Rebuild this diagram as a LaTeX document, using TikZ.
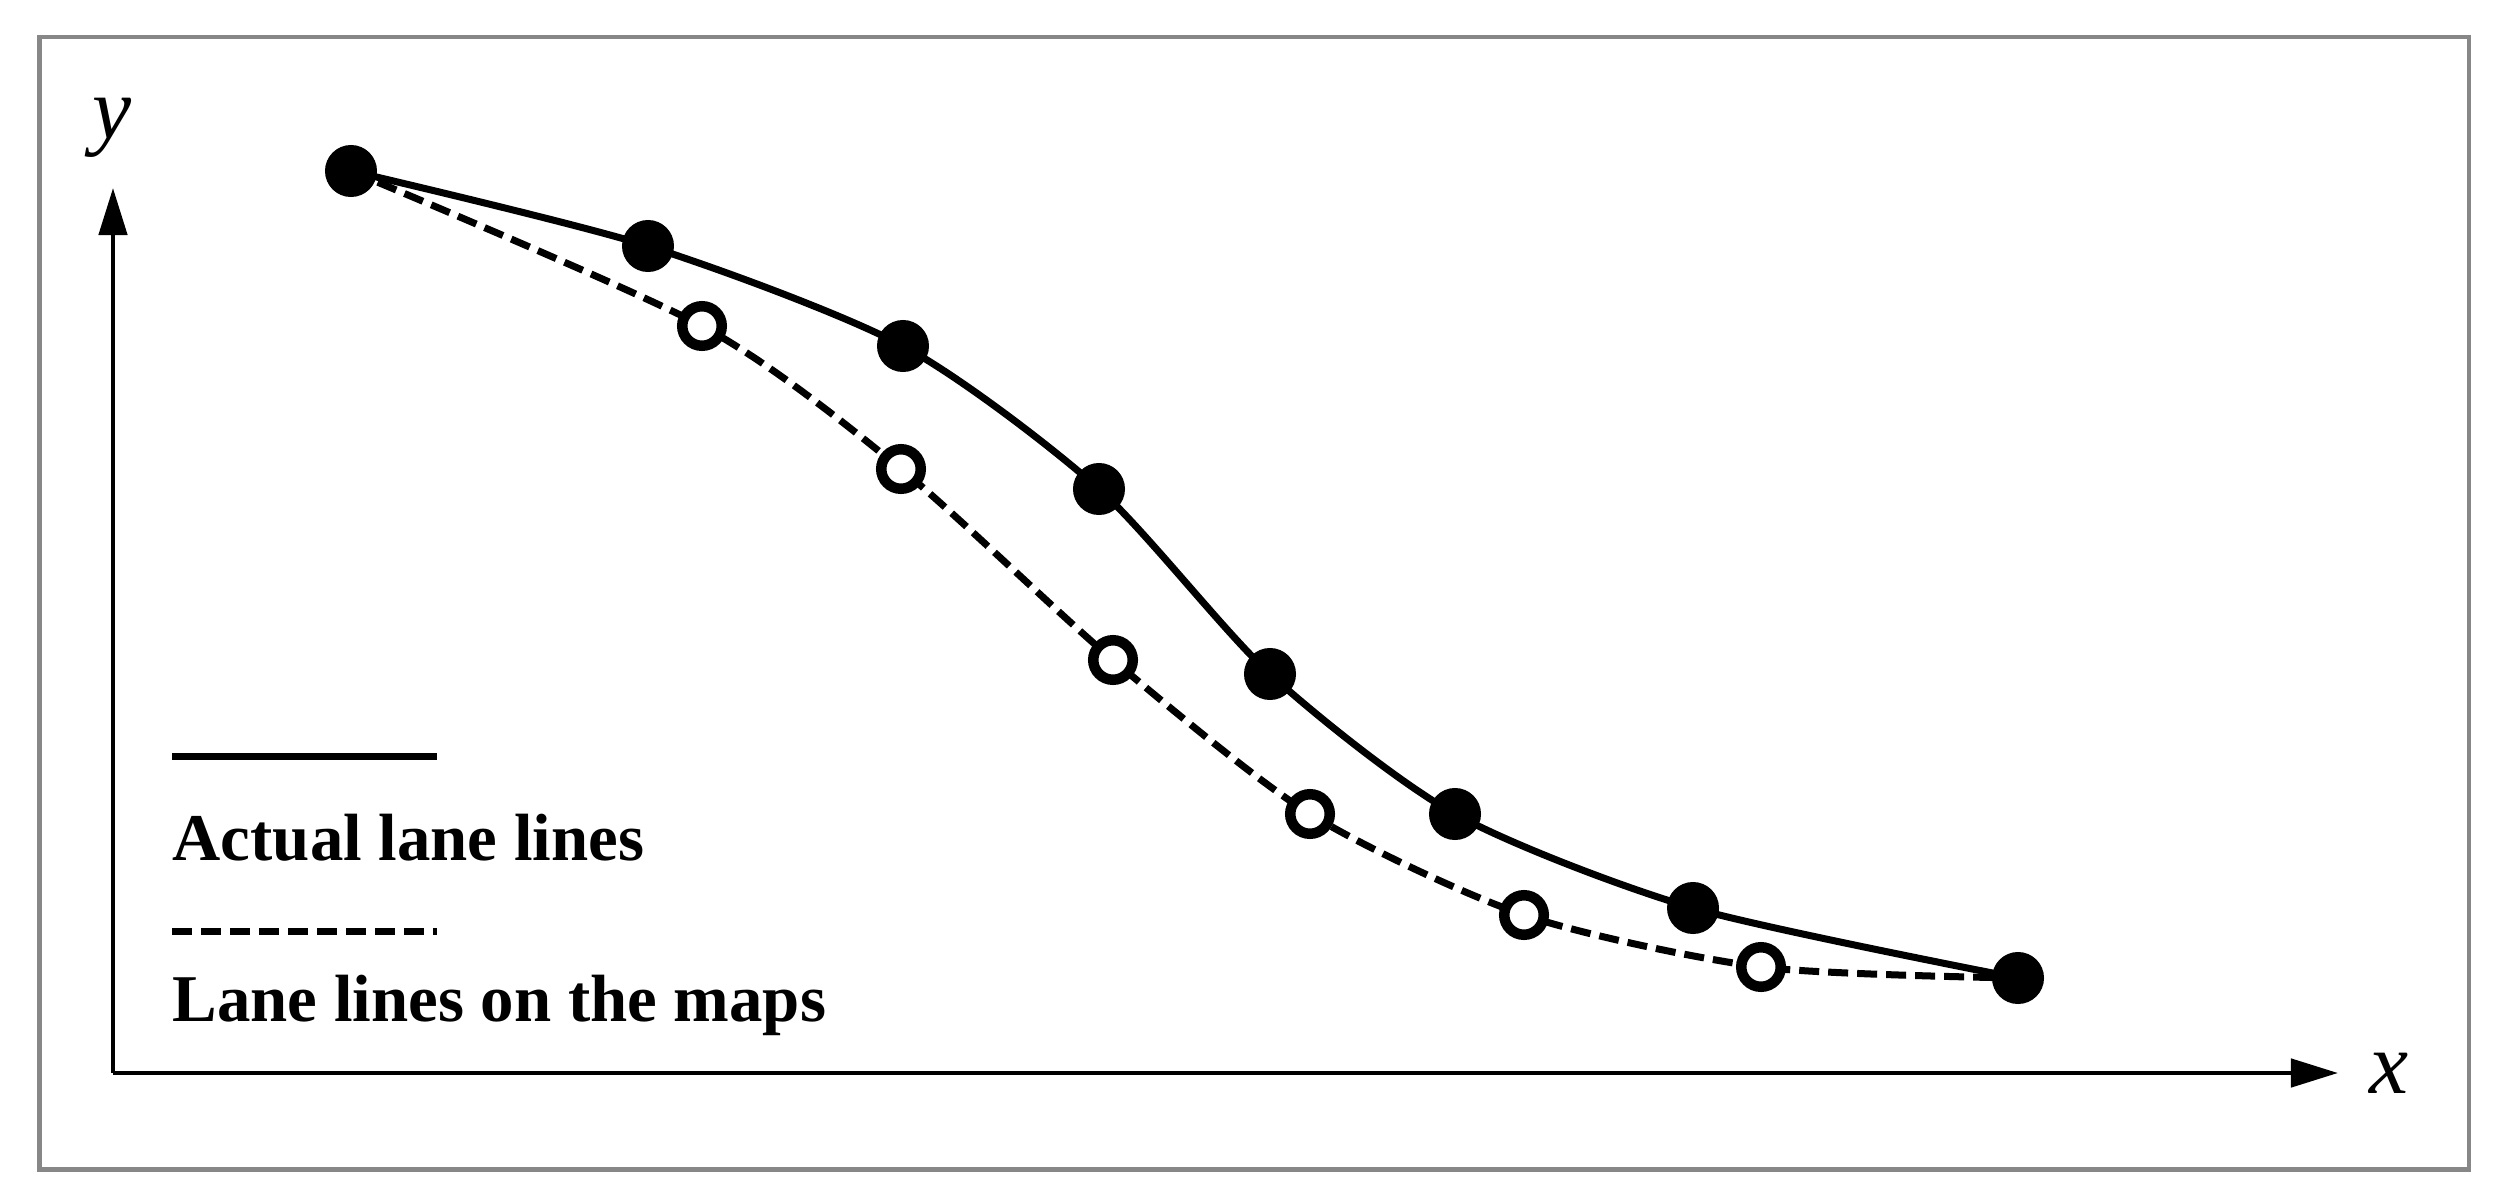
\documentclass[tikz,border=0pt]{standalone}
\usepackage{fontspec}
\setmainfont{Liberation Serif}
\usetikzlibrary{arrows.meta,backgrounds}
\begin{document}
\begin{tikzpicture}[x=0.01cm,y=-0.01cm,
  frame/.style={draw=black!47,line width=0.045cm},
  axis/.style={line width=0.046cm,-{Triangle[length=0.47cm,width=0.28cm]}},
  actual/.style={line width=0.07cm},
  mapline/.style={line width=0.07cm,dash pattern=on 0.2cm off 0.09cm},
  fdot/.style={circle,fill=black,inner sep=0pt,minimum size=0.52cm},
  odot/.style={circle,draw=black,fill=white,line width=0.105cm,inner sep=0pt,minimum size=0.395cm},
  axlabel/.style={font=\fontsize{25}{30}\selectfont\itshape,inner sep=0pt},
  legtext/.style={font=\fontsize{19}{23}\selectfont\bfseries,inner sep=0pt,anchor=base west}]
\useasboundingbox (0,0) rectangle (2502,1200);
\draw[frame] (39.5,37) rectangle (2469,1169.5);
% axes
\coordinate (o) at (113,1073);
\coordinate (ytip) at (113,188);
\coordinate (xtip) at (2338,1073);
\draw[axis] (o) -- (ytip);
\draw[axis] (o) -- (xtip);
\node[axlabel,anchor=base] (ylab) at (112,138) {y};
\node[axlabel,anchor=base] (xlab) at (2389,1093) {x};
% dots
\node[fdot] (f1) at (351,171) {};
\node[fdot] (f2) at (648,246) {};
\node[fdot] (f3) at (903,346) {};
\node[fdot] (f4) at (1099,489) {};
\node[fdot] (f5) at (1270,674) {};
\node[fdot] (f6) at (1455,814) {};
\node[fdot] (f7) at (1693,908) {};
\node[fdot] (f8) at (2018,978) {};
\node[odot] (o1) at (702,326) {};
\node[odot] (o2) at (901,469) {};
\node[odot] (o3) at (1113,660) {};
\node[odot] (o4) at (1310,814) {};
\node[odot] (o5) at (1524,915) {};
\node[odot] (o6) at (1761,967) {};
\begin{scope}[on background layer]
\draw[actual] plot[smooth,tension=0.45] coordinates {(f1.center) (f2.center) (f3.center) (f4.center) (f5.center) (f6.center) (f7.center) (f8.center)};
\draw[mapline] plot[smooth,tension=0.45] coordinates {(f1.center) (o1.center) (o2.center) (o3.center) (o4.center) (o5.center) (o6.center) (f8.center)};
\end{scope}
% legend
\coordinate (la) at (172,756);
\coordinate (lb) at (437,756);
\coordinate (lc) at (172,931);
\coordinate (ld) at (437,931);
\draw[actual] (la) -- (lb);
\draw[mapline] (lc) -- (ld);
\node[legtext] (t1) at (172,860) {Actual lane lines};
\node[legtext] (t2) at (172,1021) {Lane lines on the maps};
\end{tikzpicture}
\end{document}
